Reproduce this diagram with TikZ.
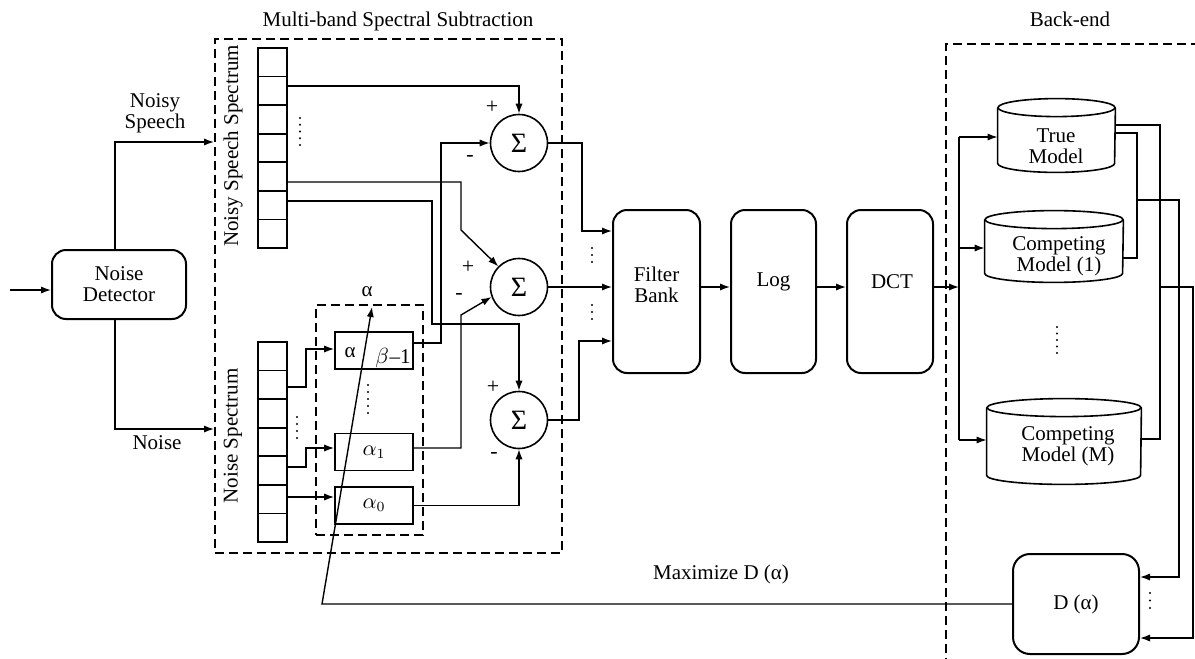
\documentclass[tikz,border=0pt]{standalone}
\usepackage{fontspec}
\setmainfont{Liberation Serif}
\newfontfamily\tmsfont{Liberation Serif}
\usetikzlibrary{arrows.meta,calc}
\newcommand\dotcol[4]{\foreach \k in {1,...,#3} \fill ({#1},{#2+#4*(\k-1)}) circle (0.6pt);}
\begin{document}
\begin{tikzpicture}[x=0.5pt,y=-0.5pt,
  font=\tmsfont\fontsize{10.5}{10.5}\selectfont,
  conn/.style={line width=0.7pt},
  arr/.style={conn,-{Latex[length=5pt,width=3.6pt]}},
  rbox/.style={draw,line width=1pt,rounded corners=7pt,inner sep=0pt},
  dbox/.style={draw,line width=1pt,dash pattern=on 4.5pt off 2.5pt,inner sep=0pt},
  cell/.style={draw,line width=0.9pt,minimum width=14.5pt,minimum height=14.29pt,inner sep=0pt},
  sig/.style={draw,circle,line width=0.8pt,minimum size=28.5pt,inner sep=0pt,font=\tmsfont\fontsize{14}{14}\selectfont},
  abox/.style={draw,line width=0.8pt,minimum width=39pt,minimum height=18.5pt,inner sep=0pt},
  cylbody/.style={inner sep=0pt,minimum width=#1},
  txt/.style={align=center,inner sep=1pt},
  pm/.style={inner sep=0pt,font=\tmsfont\fontsize{11}{11}\selectfont}
]
\clip (0,0) rectangle (1195,659);

% ---------- dashed group boxes ----------
\node[dbox,minimum width=173.5pt,minimum height=257pt] (mb) at (388.5,296) {};
\node[txt] (mbt) at (398,21) {Multi-band Spectral Subtraction};
\node[dbox,minimum width=53.5pt,minimum height=115pt] (abx) at (369.5,420) {};
\node[dbox,minimum width=140pt,minimum height=330pt,anchor=north west] (be) at (945,43) {};
\node[txt] (bet) at (1070,19) {Back-end};

% ---------- noise detector ----------
\node[rbox,minimum width=67pt,minimum height=34.5pt] (nd) at (119,284.5) {};
\node[txt] (ndt) at (119,284) {Noise\\Detector};
\coordinate (in) at (10,290);
\draw[arr] (in) -- (nd.west |- in);
\node[txt] (nst) at (155,113) {Noisy\\Speech};
\node[txt] (nt) at (157,443) {Noise};
\draw[arr] ([xshift=-2pt]nd.north) |- (mb.west |- 0,142);
\draw[arr] ([xshift=-2pt]nd.south) |- (mb.west |- 0,429);

% ---------- spectra ----------
\foreach \i in {1,...,7} {
  \node[cell] (nss\i) at (272.5,{48+28.571*(\i-0.5)}) {};
  \node[cell] (ns\i) at (272.5,{342+28.571*(\i-0.5)}) {};
}
\node[rotate=90,inner sep=0pt] (nsslab) at (233,146) {Noisy Speech Spectrum};
\node[rotate=90,inner sep=0pt] (nslab) at (233,436) {Noise Spectrum};
\dotcol{300}{118}{5}{6.75}
\dotcol{297}{417}{4}{7}

% ---------- alpha boxes ----------
\node[abox] (ab) at (374,350.5) {};
\node[inner sep=0pt] (abt1) at (350,353) {α};
\node[inner sep=0pt] (abt2) at (393,358) {$\beta$\kern0.3pt–1};
\node[abox] (a1) at (374,452) {$\alpha_1$};
\node[abox] (a0) at (374,505.5) {$\alpha_0$};
\dotcol{368}{385}{5}{7}
\node[inner sep=0pt] (alab) at (367,292) {α};
\coordinate (atip) at (372,307);

\draw[arr] (ns2.east |- 0,387) -- (306,387) |- (ab.west |- 0,349);
\draw[arr] (ns5.east |- 0,467) -- (306,467) |- (a1.west |- 0,448);
\draw[arr] (ns6.east |- 0,497) -- (a0.west |- 0,497);

% ---------- sigma nodes ----------
\node[sig] (s1) at (519,143) {Σ};
\node[sig] (s2) at (519,287) {Σ};
\node[sig] (s3) at (519,420) {Σ};
\node[pm] (p1) at (492,107) {+};
\node[pm] (m1) at (470,158) {-};
\node[pm] (p2) at (468,267) {+};
\node[pm] (m2) at (459,296) {-};
\node[pm] (p3) at (493,387) {+};
\node[pm] (m3) at (494,455) {-};

\draw[arr] (nss2.east |- 0,86) -| (s1.north);
\draw[arr] (nss5.east |- 0,182) -- (461,182) -- (461,230) -- (s2.135);
\draw[arr] (nss6.east |- 0,201) -- (432,201) -- (432,324) -| (s3.north);
\draw[arr] (ab.east |- 0,343) -- (441,343) |- (s1.west);
\draw[arr] (a1.east |- 0,448) -- (461,448) -- (461,315) -- (s2.200);
\draw[arr] (a0.east) -| (s3.south);

% ---------- filter bank, log, dct ----------
\node[rbox,minimum width=43.5pt,minimum height=81.5pt] (fb) at (656.5,291.5) {};
\node[txt] (fbt) at (656.5,285) {Filter\\Bank};
\node[rbox,minimum width=42.5pt,minimum height=81.5pt] (lg) at (773.5,291.5) {};
\node[txt] (lgt) at (773.5,282) {Log};
\node[rbox,minimum width=43pt,minimum height=81.5pt] (dct) at (890,291.5) {};
\node[txt] (dctt) at (892,282) {DCT};

\draw[arr] (s1.east) -- (582,143) |- (fb.west |- 0,231);
\draw[arr] (s2.east) -- (fb.west |- 0,287);
\draw[arr] (s3.east) -- (579,420) |- (fb.west |- 0,341);
\dotcol{592}{248}{3}{7}
\dotcol{592}{305}{3}{7}
\draw[arr] (fb.east |- 0,287) -- (lg.west |- 0,287);
\draw[arr] (lg.east |- 0,287) -- (dct.west |- 0,287);
\coordinate (bj) at (959,287);
\draw[arr] (dct.east |- 0,287) -- (bj);

% ---------- back-end models ----------
\node[cylbody=58.5pt,minimum height=27.5pt] (tm) at (1056.5,135.5) {};
\draw[line width=0.8pt] (tm.north) ellipse [x radius=29.25pt,y radius=4.5pt];
\draw[line width=0.8pt] (tm.north west) -- (tm.south west) arc[start angle=180,end angle=360,x radius=29.25pt,y radius=4.5pt] -- (tm.north east);
\node[txt] (tmt) at (1056,146) {True\\Model};

\node[cylbody=69pt,minimum height=26.5pt] (cm1) at (1054,246.5) {};
\draw[line width=0.8pt] (cm1.north) ellipse [x radius=34.5pt,y radius=4.5pt];
\draw[line width=0.8pt] (cm1.north west) -- (cm1.south west) arc[start angle=180,end angle=360,x radius=34.5pt,y radius=4.5pt] -- (cm1.north east);
\node[txt] (cm1t) at (1059,256) {Competing\\Model (1)};

\node[cylbody=77pt,minimum height=33.5pt] (cmm) at (1064,441.5) {};
\draw[line width=0.8pt] (cmm.north) ellipse [x radius=38.5pt,y radius=4.5pt];
\draw[line width=0.8pt] (cmm.north west) -- (cmm.south west) arc[start angle=180,end angle=360,x radius=38.5pt,y radius=4.5pt] -- (cmm.north east);
\node[txt] (cmmt) at (1068,446) {Competing\\Model (M)};

\dotcol{1057}{327}{5}{6.5}

\coordinate (bt) at (959,137);
\coordinate (bb) at (959,440);
\draw[conn] (bt) -- (bb);
\draw[arr] (bt) -- (tm.west |- bt);
\draw[arr] (959,248) -- (cm1.west |- 0,248);
\draw[arr] (bb) -- (cmm.west |- bb);

% ---------- D(alpha) ----------
\node[rbox,rounded corners=8.5pt,minimum width=63pt,minimum height=50pt] (dd) at (1076,604) {};
\node[txt] (ddt) at (1076,604) {D (α)};
\dotcol{1150}{593}{3}{7.5}

\draw[conn] (tm.east |- 0,125) -- (1160,125) -- (1160,439) -- (cmm.east |- 0,439);
\draw[conn] (tm.east |- 0,133) -- (1137,133) -- (1137,258) -- (cm1.east |- 0,258);
\draw[arr] (1137,200) -- (1179,200) -- (1179,577) -- (dd.east |- 0,577);
\draw[arr] (1160,287) -- (1193,287) -- (1193,638) -- (dd.east |- 0,638);

\node[txt] (maxt) at (721,574) {Maximize D (α)};
\draw[arr] (dd.west) -- (322,604) -- (atip);
\end{tikzpicture}
\end{document}
